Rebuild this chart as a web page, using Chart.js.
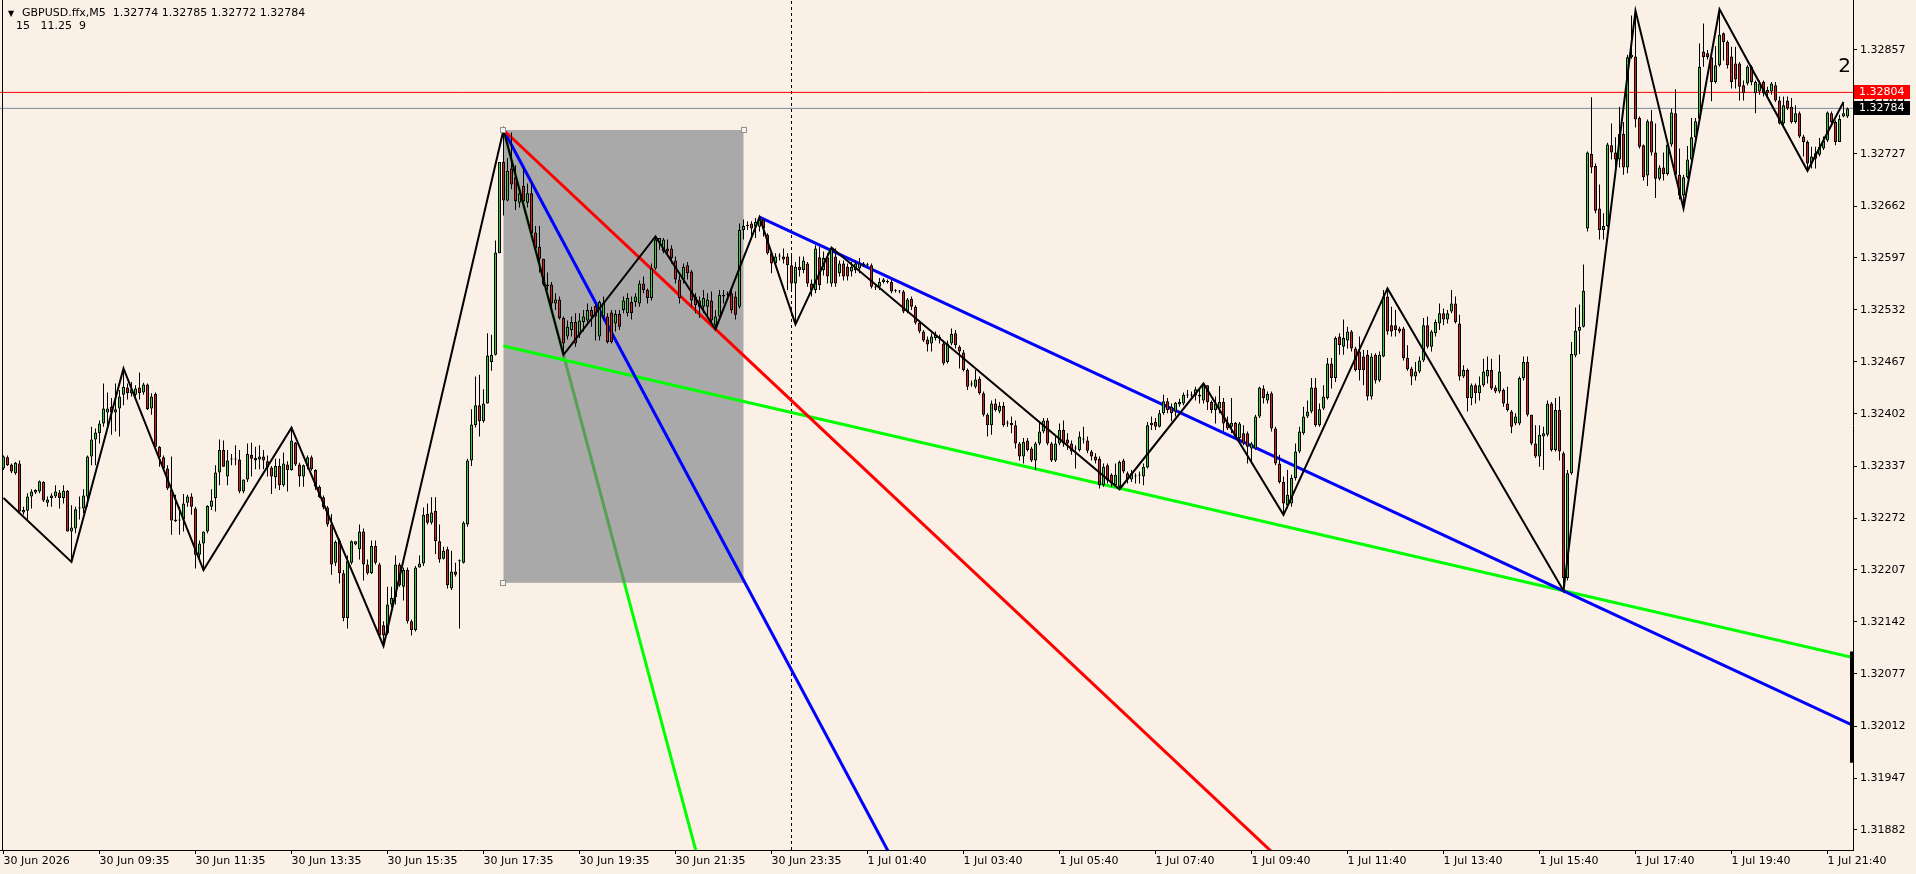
<!DOCTYPE html>
<html>
<head>
<meta charset="utf-8">
<title>GBPUSD.ffx,M5</title>
<script src="https://cdn.jsdelivr.net/npm/chart.js@4.4.1/dist/chart.umd.min.js"></script>
<style>
  html, body { margin: 0; padding: 0; background: #faf0e6; overflow: hidden; }
  #wrap { position: relative; width: 1916px; height: 874px; }
  canvas { position: absolute; left: 0; top: 0; }
  .hdr { position: absolute; font: 11px "DejaVu Sans", sans-serif; color: #000; white-space: pre; line-height: 13px; }
</style>
</head>
<body>
<div id="wrap">
  <canvas id="chart" width="1916" height="874"></canvas>
  <div class="hdr" style="left:8px;top:7px;font-size:8px;">▼</div>
  <div class="hdr" style="left:22px;top:6px;">GBPUSD.ffx,M5  1.32774 1.32785 1.32772 1.32784</div>
  <div class="hdr" style="left:16px;top:19px;">15   11.25  9</div>
</div>
<script>
// M5 bars, prices in points above 1.30000 (2784 -> 1.32784)
const opens = [
  2334,2348,2339,2328,2340,2279,2281,2299,2304,2305,
  2317,2291,2297,2299,2304,2297,2306,2255,2259,2284,
  2284,2299,2349,2370,2378,2390,2404,2411,2404,2409,
  2426,2435,2428,2426,2435,2429,2439,2409,2427,2361,
  2348,2334,2307,2268,2269,2270,2291,2299,2284,2226,
  2240,2255,2286,2297,2329,2357,2324,2345,2345,2345,
  2305,2320,2351,2347,2345,2349,2343,2335,2323,2337,
  2313,2339,2332,2366,2339,2324,2337,2348,2332,2311,
  2298,2285,2264,2216,2244,2203,2147,2216,2239,2233,
  2255,2214,2203,2237,2214,2138,2128,2164,2173,2214,
  2186,2207,2143,2132,2210,2215,2277,2266,2281,2243,
  2221,2233,2184,2205,2218,2216,2264,2344,2388,2413,
  2393,2415,2467,2476,2603,2717,2669,2709,2698,2666,
  2687,2666,2678,2629,2611,2596,2562,2564,2540,2545,
  2522,2499,2507,2517,2501,2517,2519,2532,2537,2499,
  2524,2524,2529,2515,2527,2532,2528,2542,2542,2540,
  2565,2557,2547,2584,2616,2605,2609,2609,2594,2570,
  2570,2588,2580,2549,2544,2536,2536,2544,2513,2524,
  2549,2551,2553,2549,2536,2632,2637,2640,2636,2636,
  2645,2626,2603,2590,2599,2599,2599,2588,2565,2586,
  2582,2590,2565,2557,2598,2582,2598,2565,2599,2578,
  2590,2586,2580,2582,2584,2590,2588,2588,2561,2561,
  2567,2567,2567,2556,2555,2555,2530,2546,2536,2516,
  2505,2495,2490,2497,2497,2490,2467,2490,2503,2486,
  2479,2457,2440,2436,2446,2428,2401,2388,2415,2405,
  2412,2390,2391,2388,2365,2349,2369,2359,2344,2365,
  2380,2394,2365,2344,2365,2382,2370,2365,2359,2357,
  2370,2369,2355,2349,2346,2313,2338,2326,2313,2311,
  2344,2328,2320,2324,2325,2324,2335,2388,2392,2386,
  2403,2418,2411,2405,2414,2415,2425,2425,2425,2426,
  2419,2438,2417,2407,2409,2417,2391,2386,2391,2372,
  2378,2378,2359,2359,2399,2434,2419,2428,2384,2340,
  2317,2288,2290,2322,2355,2378,2399,2405,2435,2388,
  2409,2422,2465,2447,2499,2486,2494,2505,2484,2480,
  2474,2476,2424,2476,2444,2474,2549,2513,2513,2509,
  2509,2472,2459,2449,2455,2469,2513,2486,2503,2515,
  2528,2520,2530,2540,2515,2449,2457,2422,2438,2428,
  2438,2449,2457,2435,2430,2432,2415,2405,2390,2390,
  2447,2467,2401,2365,2349,2374,2376,2415,2357,2407,
  2353,2197,2328,2475,2506,2511,2634,2727,2712,2659,
  2632,2637,2738,2729,2720,2752,2710,2848,2849,2772,
  2738,2700,2768,2729,2696,2710,2702,2739,2778,2701,
  2675,2698,2720,2748,2771,2855,2853,2848,2817,2838,
  2878,2867,2849,2840,2840,2813,2815,2836,2803,2805,
  2817,2807,2805,2813,2794,2765,2794,2786,2767,2778,
  2749,2742,2715,2721,2726,2734,2744,2778,2767,2742,
  2774,2774
];
const highs = [
  2350,2350,2340,2342,2344,2286,2303,2308,2308,2319,
  2318,2299,2303,2313,2307,2313,2307,2288,2286,2299,
  2308,2350,2386,2384,2394,2440,2429,2422,2440,2432,
  2459,2440,2442,2438,2454,2441,2440,2428,2429,2362,
  2350,2338,2349,2301,2286,2302,2301,2303,2286,2244,
  2255,2288,2308,2338,2370,2369,2357,2352,2363,2357,
  2320,2365,2366,2361,2363,2357,2350,2337,2346,2346,
  2354,2343,2385,2367,2341,2339,2350,2350,2333,2313,
  2300,2287,2277,2244,2246,2207,2225,2244,2243,2264,
  2259,2220,2244,2244,2216,2143,2186,2186,2225,2216,
  2210,2210,2145,2212,2225,2285,2290,2298,2298,2264,
  2236,2236,2231,2216,2220,2268,2346,2408,2449,2451,
  2433,2503,2501,2619,2717,2757,2722,2754,2713,2680,
  2709,2690,2691,2637,2637,2596,2579,2567,2553,2549,
  2524,2519,2524,2528,2528,2532,2540,2536,2540,2544,
  2549,2528,2532,2532,2532,2549,2553,2549,2553,2569,
  2574,2559,2590,2624,2621,2622,2620,2613,2599,2575,
  2590,2592,2582,2553,2549,2557,2553,2555,2532,2557,
  2557,2555,2557,2555,2640,2645,2643,2643,2647,2648,
  2646,2628,2605,2603,2603,2609,2603,2603,2592,2599,
  2599,2592,2570,2613,2611,2605,2603,2610,2609,2594,
  2594,2590,2592,2594,2597,2592,2591,2590,2563,2572,
  2572,2570,2570,2558,2557,2557,2547,2549,2538,2518,
  2507,2499,2503,2505,2501,2494,2494,2509,2507,2488,
  2482,2459,2444,2457,2449,2430,2403,2419,2421,2417,
  2417,2394,2399,2394,2367,2372,2372,2361,2367,2392,
  2397,2397,2367,2374,2390,2394,2378,2369,2363,2380,
  2386,2374,2357,2353,2349,2340,2340,2328,2340,2344,
  2346,2330,2332,2328,2330,2340,2392,2399,2397,2407,
  2426,2422,2415,2417,2421,2429,2432,2430,2436,2434,
  2440,2438,2419,2424,2437,2422,2399,2422,2392,2392,
  2388,2380,2367,2401,2436,2438,2430,2430,2386,2351,
  2324,2332,2326,2365,2386,2411,2419,2447,2447,2415,
  2438,2472,2472,2499,2503,2520,2511,2507,2486,2499,
  2482,2482,2478,2478,2480,2557,2559,2536,2532,2511,
  2511,2488,2461,2467,2474,2522,2524,2507,2520,2540,
  2534,2532,2557,2549,2526,2463,2459,2440,2440,2449,
  2471,2474,2471,2438,2476,2434,2436,2407,2403,2449,
  2474,2474,2401,2388,2388,2386,2419,2417,2422,2424,
  2355,2332,2492,2535,2539,2589,2730,2798,2715,2689,
  2653,2741,2765,2748,2786,2767,2851,2900,2906,2774,
  2739,2770,2782,2765,2713,2729,2741,2784,2808,2734,
  2701,2737,2772,2772,2865,2890,2857,2853,2862,2908,
  2879,2869,2861,2861,2842,2819,2838,2838,2819,2819,
  2819,2811,2817,2817,2799,2799,2799,2797,2788,2780,
  2751,2744,2736,2736,2747,2749,2780,2780,2769,2776,
  2792,2785
];
const lows = [
  2332,2337,2328,2326,2278,2276,2270,2284,2302,2303,
  2292,2286,2286,2297,2284,2290,2255,2217,2253,2270,
  2278,2286,2338,2338,2365,2386,2386,2376,2380,2374,
  2413,2420,2424,2424,2420,2426,2407,2401,2359,2336,
  2331,2307,2251,2267,2251,2255,2286,2276,2209,2222,
  2207,2253,2282,2280,2313,2336,2313,2338,2338,2303,
  2303,2317,2324,2333,2333,2333,2324,2302,2309,2307,
  2311,2305,2331,2337,2311,2311,2333,2331,2307,2297,
  2283,2261,2201,2212,2190,2143,2134,2214,2238,2220,
  2194,2201,2202,2214,2123,2112,2126,2160,2164,2186,
  2169,2140,2125,2130,2210,2212,2264,2264,2227,2216,
  2220,2184,2182,2199,2134,2215,2261,2337,2385,2374,
  2391,2415,2456,2475,2603,2650,2668,2683,2657,2660,
  2666,2660,2626,2605,2579,2562,2557,2536,2532,2520,
  2476,2495,2499,2486,2497,2505,2513,2511,2494,2494,
  2519,2490,2490,2505,2507,2528,2524,2520,2536,2536,
  2553,2540,2544,2582,2607,2603,2600,2590,2565,2540,
  2565,2570,2536,2528,2522,2528,2524,2515,2508,2519,
  2540,2547,2528,2520,2534,2620,2632,2620,2622,2630,
  2624,2601,2578,2586,2594,2590,2557,2557,2514,2574,
  2578,2561,2549,2553,2557,2575,2565,2561,2561,2574,
  2569,2569,2574,2578,2578,2586,2585,2559,2557,2557,
  2565,2565,2553,2554,2553,2528,2528,2532,2514,2503,
  2492,2480,2480,2494,2490,2463,2465,2488,2484,2459,
  2455,2432,2436,2434,2426,2399,2374,2376,2405,2403,
  2386,2386,2378,2359,2344,2340,2355,2342,2332,2363,
  2378,2363,2342,2342,2363,2361,2357,2351,2334,2355,
  2365,2353,2344,2340,2309,2311,2315,2311,2311,2308,
  2328,2315,2317,2315,2315,2313,2334,2382,2382,2385,
  2401,2403,2393,2399,2411,2413,2422,2423,2419,2415,
  2415,2407,2403,2390,2403,2380,2382,2378,2372,2369,
  2363,2340,2340,2357,2397,2415,2415,2380,2338,2315,
  2276,2284,2286,2319,2353,2376,2397,2403,2386,2386,
  2407,2420,2434,2442,2476,2476,2484,2480,2455,2444,
  2438,2419,2420,2440,2442,2473,2501,2499,2499,2503,
  2469,2456,2438,2444,2453,2467,2484,2480,2499,2507,
  2513,2515,2528,2515,2444,2447,2405,2413,2415,2419,
  2436,2440,2432,2428,2428,2411,2405,2378,2388,2388,
  2444,2399,2363,2347,2336,2332,2374,2355,2355,2344,
  2181,2194,2326,2473,2477,2510,2630,2703,2653,2620,
  2620,2636,2720,2710,2710,2701,2703,2846,2760,2734,
  2694,2687,2725,2672,2694,2694,2700,2736,2698,2670,
  2659,2696,2717,2746,2769,2836,2845,2793,2815,2836,
  2844,2834,2809,2809,2794,2794,2813,2813,2778,2801,
  2799,2799,2801,2792,2764,2763,2782,2765,2765,2747,
  2724,2706,2709,2709,2724,2732,2742,2763,2738,2742,
  2773,2772
];
const closes = [
  2349,2338,2330,2341,2280,2282,2299,2305,2307,2318,
  2294,2295,2300,2305,2297,2306,2255,2260,2283,2285,
  2300,2349,2370,2379,2390,2409,2409,2404,2408,2424,
  2436,2428,2433,2434,2428,2439,2408,2424,2361,2348,
  2334,2309,2269,2270,2270,2290,2299,2286,2226,2240,
  2255,2287,2294,2329,2357,2336,2344,2345,2345,2305,
  2320,2352,2346,2344,2349,2344,2335,2324,2337,2313,
  2340,2332,2369,2339,2324,2338,2348,2333,2311,2298,
  2285,2264,2214,2242,2203,2147,2218,2243,2243,2255,
  2214,2203,2237,2216,2125,2125,2164,2172,2214,2188,
  2207,2143,2132,2210,2215,2276,2266,2279,2243,2220,
  2231,2188,2205,2201,2218,2266,2344,2389,2413,2393,
  2415,2475,2476,2604,2717,2669,2706,2689,2668,2678,
  2668,2678,2628,2609,2596,2564,2564,2540,2545,2522,
  2490,2511,2517,2490,2519,2524,2532,2524,2524,2542,
  2541,2492,2492,2527,2511,2544,2547,2528,2549,2565,
  2557,2547,2584,2620,2622,2620,2605,2597,2570,2547,
  2586,2578,2544,2538,2536,2547,2545,2519,2524,2551,
  2551,2551,2532,2526,2632,2637,2638,2634,2642,2645,
  2634,2603,2590,2599,2599,2595,2588,2565,2586,2582,
  2594,2565,2557,2609,2563,2597,2574,2609,2565,2590,
  2574,2574,2586,2590,2590,2588,2588,2561,2560,2567,
  2570,2567,2555,2556,2555,2530,2545,2536,2516,2505,
  2494,2489,2499,2501,2497,2465,2490,2502,2488,2480,
  2457,2436,2439,2445,2428,2401,2388,2415,2407,2412,
  2388,2390,2388,2365,2349,2367,2357,2344,2365,2380,
  2394,2365,2344,2365,2382,2365,2365,2355,2359,2374,
  2370,2356,2349,2344,2313,2336,2319,2315,2326,2342,
  2330,2320,2328,2324,2325,2336,2388,2391,2386,2403,
  2418,2407,2403,2416,2417,2426,2425,2426,2433,2424,
  2438,2417,2407,2415,2417,2390,2384,2391,2374,2390,
  2365,2361,2365,2399,2435,2422,2427,2384,2340,2317,
  2290,2301,2322,2355,2380,2399,2405,2435,2388,2408,
  2424,2465,2447,2497,2488,2497,2505,2484,2457,2457,
  2457,2424,2474,2444,2476,2549,2505,2505,2507,2505,
  2472,2458,2449,2455,2469,2513,2486,2505,2517,2528,
  2520,2528,2540,2517,2449,2457,2422,2438,2428,2438,
  2455,2457,2434,2430,2455,2415,2407,2386,2399,2447,
  2467,2401,2365,2349,2376,2378,2415,2357,2407,2355,
  2197,2328,2477,2506,2511,2556,2729,2710,2656,2632,
  2637,2739,2729,2720,2752,2710,2848,2851,2770,2736,
  2698,2768,2729,2696,2710,2702,2739,2779,2701,2675,
  2698,2720,2748,2768,2836,2848,2848,2817,2838,2876,
  2867,2838,2817,2820,2811,2803,2836,2817,2817,2815,
  2803,2803,2815,2794,2765,2788,2784,2767,2778,2749,
  2742,2715,2724,2728,2736,2744,2779,2767,2742,2771,
  2778,2784
];

// ZigZag pivots (bar index, points)
const zigzagIdx = [0, 17, 30, 50, 72, 95, 125, 140, 163, 178, 189, 198, 207, 279, 300, 320, 346, 390, 408, 420, 429, 451, 460];
const zigzagPts = [2297, 2217, 2459, 2207, 2385, 2112, 2757, 2476, 2624, 2508, 2648, 2514, 2610, 2308, 2440, 2276, 2559, 2181, 2906, 2659, 2908, 2706, 2792];

// trend line anchors [bar index, points], drawn as rays to the right
const redLine = [[125, 2757], [178, 2508]];
const blueSteep = [[125, 2757], [149, 2532]];
const blueLong = [[189, 2648], [390, 2181]];
const greenLong = [[125, 2487], [390, 2181]];
const greenSteep = [[125, 2757], [140, 2476]];

// rectangle object
const boxStart = 125, boxEnd = 185, boxHigh = 2757, boxLow = 2191;

const separatorIdx = 197;
const askLevel = 2804;
const bidLevel = 2784;
const edgeMark = [[462, 2105], [462, 1966]];

const xTickIdx = [0, 24, 48, 72, 96, 120, 144, 168, 192, 216, 240, 264, 288, 312, 336, 360, 384, 408, 432, 456];
const xTickLabels = ['30 Jun 2026', '30 Jun 09:35', '30 Jun 11:35', '30 Jun 13:35', '30 Jun 15:35', '30 Jun 17:35',
  '30 Jun 19:35', '30 Jun 21:35', '30 Jun 23:35', '1 Jul 01:40', '1 Jul 03:40', '1 Jul 05:40', '1 Jul 07:40',
  '1 Jul 09:40', '1 Jul 11:40', '1 Jul 13:40', '1 Jul 15:40', '1 Jul 17:40', '1 Jul 19:40', '1 Jul 21:40'];
const yTickValues = [1.31882, 1.31947, 1.32012, 1.32077, 1.32142, 1.32207, 1.32272, 1.32337,
  1.32402, 1.32467, 1.32532, 1.32597, 1.32662, 1.32727, 1.32792, 1.32857];

const X_MIN = -0.875, X_MAX = 462.375;
const Y_MIN = 1.31857, Y_MAX = 1.329195;

const toPrice = p => 1.3 + p / 100000;

function ray(anchors) {
  const [[x1, y1], [x2, y2]] = anchors;
  const k = (y2 - y1) / (x2 - x1);
  return [
    { x: x1, y: toPrice(y1) },
    { x: x2, y: toPrice(y2) },
    { x: X_MAX, y: toPrice(y1 + k * (X_MAX - x1)) }
  ];
}

function lineSet(data, color, width, order, extra) {
  return Object.assign({
    type: 'line', data: data, borderColor: color, borderWidth: width,
    pointRadius: 0, tension: 0, fill: false, order: order
  }, extra || {});
}

const bullColor = '#32cd32';
const bearColor = '#d7201e';

const bodies = opens.map((o, i) => ({ x: i, y: [toPrice(o), toPrice(closes[i])] }));
const wicks = lows.map((l, i) => ({ x: i, y: [toPrice(l), toPrice(highs[i])] }));
const bodyColors = opens.map((o, i) => closes[i] >= o ? bullColor : bearColor);

function boxRect(chart) {
  const xs = chart.scales.x, ys = chart.scales.y;
  const x1 = xs.getPixelForValue(boxStart), x2 = xs.getPixelForValue(boxEnd);
  const y1 = ys.getPixelForValue(toPrice(boxHigh)), y2 = ys.getPixelForValue(toPrice(boxLow));
  return { x: x1, y: y1, w: x2 - x1, h: y2 - y1 };
}

const mtDraw = {
  id: 'mtDraw',
  beforeDraw(chart) {
    const ctx = chart.ctx;
    ctx.save();
    ctx.fillStyle = '#faf0e6';
    ctx.fillRect(0, 0, chart.width, chart.height);
    ctx.restore();
  },
  beforeDatasetsDraw(chart) {
    const ctx = chart.ctx, r = boxRect(chart);
    ctx.save();
    ctx.fillStyle = '#a9a9a9';
    ctx.fillRect(r.x, r.y, r.w, r.h);
    ctx.restore();
  },
  beforeDatasetDraw(chart, args) {
    const role = chart.data.datasets[args.index].role;
    if (!role) return;
    const ctx = chart.ctx, a = chart.chartArea, r = boxRect(chart);
    ctx.save();
    ctx.beginPath();
    if (role === 'outside') {
      ctx.rect(a.left, a.top, a.right - a.left, a.bottom - a.top);
      ctx.rect(r.x, r.y, r.w, r.h);
      ctx.clip('evenodd');
    } else {
      ctx.rect(r.x, r.y, r.w, r.h);
      ctx.clip();
    }
  },
  afterDatasetDraw(chart, args) {
    if (chart.data.datasets[args.index].role) chart.ctx.restore();
  },
  afterDraw(chart) {
    const ctx = chart.ctx, a = chart.chartArea, ys = chart.scales.y, r = boxRect(chart);
    ctx.save();
    // left frame
    ctx.fillStyle = '#000';
    ctx.fillRect(a.left + 2, a.top, 1, a.bottom - a.top);
    // rectangle handles
    ctx.fillStyle = '#f4f4f4';
    ctx.strokeStyle = '#909090';
    ctx.lineWidth = 1;
    [[r.x, r.y], [r.x + r.w, r.y], [r.x, r.y + r.h]].forEach(([hx, hy]) => {
      ctx.fillRect(Math.round(hx) - 2, Math.round(hy) - 2, 4, 4);
      ctx.strokeRect(Math.round(hx) - 2.5, Math.round(hy) - 2.5, 5, 5);
    });
    // price labels on the axis
    ctx.font = '11px "DejaVu Sans"';
    ctx.textBaseline = 'middle';
    ctx.textAlign = 'left';
    [[askLevel, '#ff0000'], [bidLevel, '#000000']].forEach(([lvl, col]) => {
      const y = Math.round(ys.getPixelForValue(toPrice(lvl)));
      ctx.fillStyle = col;
      ctx.fillRect(a.right + 1, y - 7, 56, 14);
      ctx.fillStyle = '#fff';
      ctx.fillText(toPrice(lvl).toFixed(5), a.right + 6, y + 0.5);
    });
    // indicator label
    ctx.fillStyle = '#000';
    ctx.font = '20px "DejaVu Sans"';
    ctx.textAlign = 'right';
    ctx.fillText('2', a.right - 2, 67);
    ctx.restore();
  }
};

Chart.defaults.font.family = '"DejaVu Sans", sans-serif';
Chart.defaults.font.size = 11;
Chart.defaults.color = '#000';

new Chart(document.getElementById('chart'), {
  type: 'bar',
  data: {
    datasets: [
      lineSet(edgeMark.map(([x, p]) => ({ x: x, y: toPrice(p) })), '#000', 3, 0),
      lineSet(zigzagIdx.map((x, k) => ({ x: x, y: toPrice(zigzagPts[k]) })), '#000', 2, 1),
      {
        type: 'bar', data: bodies, grouped: false, barThickness: 3, minBarLength: 1,
        backgroundColor: bodyColors, borderColor: '#000', borderWidth: 1,
        borderSkipped: false, inflateAmount: 0, order: 2
      },
      {
        type: 'bar', data: wicks, grouped: false, barThickness: 1,
        backgroundColor: '#000', borderWidth: 0, inflateAmount: 0, order: 3
      },
      lineSet([{ x: X_MIN, y: toPrice(askLevel) }, { x: X_MAX, y: toPrice(askLevel) }], '#ff0000', 1, 4),
      lineSet([{ x: X_MIN, y: toPrice(bidLevel) }, { x: X_MAX, y: toPrice(bidLevel) }], '#778899', 1, 4),
      lineSet(ray(redLine), '#ff0000', 3, 5),
      lineSet(ray(blueSteep), '#0000ff', 3, 5),
      lineSet(ray(blueLong), '#0000ff', 3, 5),
      lineSet(ray(greenLong), '#00ff00', 3, 5),
      lineSet(ray(greenSteep), '#00ff00', 3, 6, { role: 'outside' }),
      lineSet(ray(greenSteep), '#55a055', 3, 6, { role: 'inside' }),
      lineSet([{ x: separatorIdx, y: Y_MIN }, { x: separatorIdx, y: Y_MAX }], '#000', 1, 7, { borderDash: [3, 3] })
    ]
  },
  options: {
    responsive: false,
    animation: false,
    devicePixelRatio: 1,
    events: [],
    layout: { padding: 0 },
    plugins: { legend: { display: false }, tooltip: { enabled: false } },
    scales: {
      x: {
        type: 'linear', min: X_MIN, max: X_MAX, offset: false,
        grid: { display: true, drawOnChartArea: false, drawTicks: true, tickLength: 4, color: '#000', offset: false },
        border: { display: true, color: '#000', width: 1 },
        ticks: {
          autoSkip: false, maxRotation: 0, minRotation: 0, align: 'start', padding: 1,
          callback: (v, i) => xTickLabels[i]
        },
        afterBuildTicks: s => { s.ticks = xTickIdx.map(v => ({ value: v })); },
        afterFit: s => { s.height = 24; s.paddingLeft = 0; s.paddingRight = 0; }
      },
      y: {
        type: 'linear', position: 'right', min: Y_MIN, max: Y_MAX, beginAtZero: false, grace: 0,
        grid: { display: true, drawOnChartArea: false, drawTicks: true, tickLength: 4, color: '#000' },
        border: { display: true, color: '#000', width: 1 },
        ticks: { padding: 3, callback: v => v.toFixed(5) },
        afterBuildTicks: s => { s.ticks = yTickValues.map(v => ({ value: v })); },
        afterFit: s => { s.width = 63; s.paddingTop = 0; s.paddingBottom = 0; }
      }
    }
  },
  plugins: [mtDraw]
});
</script>
</body>
</html>
